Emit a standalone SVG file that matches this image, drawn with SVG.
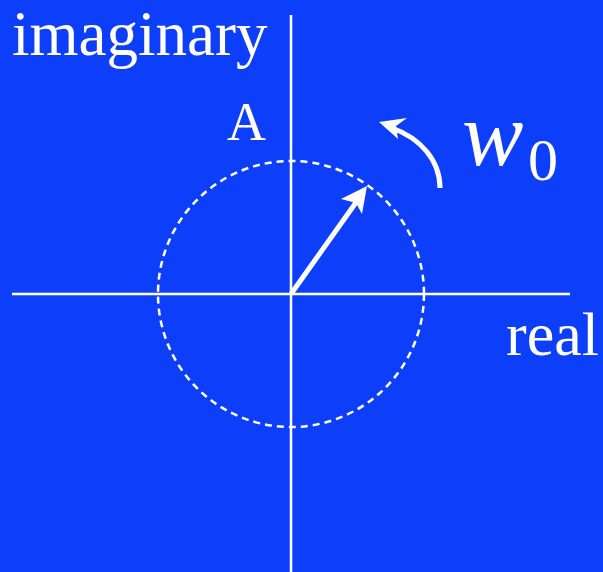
<svg xmlns="http://www.w3.org/2000/svg" width="603" height="572" viewBox="0 0 603 572">
<defs>
<style>
.ax{stroke:#fff;stroke-width:2.5;fill:none}
.t{fill:#fff;font-family:"Liberation Serif","Times New Roman",serif}
</style>
</defs>
<rect width="603" height="572" fill="#0d3ffb"/>
<g id="axes">
<line class="ax" x1="291" y1="15" x2="291" y2="572"/>
<line class="ax" x1="12" y1="294" x2="570" y2="294"/>
</g>
<g id="circle">
<circle cx="291" cy="294" r="133" fill="none" stroke="#fff" stroke-width="2.5" stroke-dasharray="7,5"/>
</g>
<g id="connectors">
<path d="M291,294 L357,201" stroke="#fff" stroke-width="5" fill="none"/>
<path d="M367,186 L341,199 L356,203 L362,214 Z" fill="#fff"/>
<path d="M440,188 C440,160 420,138 392,128" stroke="#fff" stroke-width="5" fill="none"/>
<path d="M379,122 L407,118 L396,126 L398,139 Z" fill="#fff"/>
</g>
<g id="labels">
<text class="t" x="12" y="55" font-size="63">imaginary</text>
<text class="t" x="227" y="140" font-size="54">A</text>
<text class="t" x="506" y="355" font-size="62">real</text>
<text class="t" x="462" y="165" font-size="92" font-style="italic">w</text>
<text class="t" x="528" y="180" font-size="60">0</text>
</g>
</svg>
